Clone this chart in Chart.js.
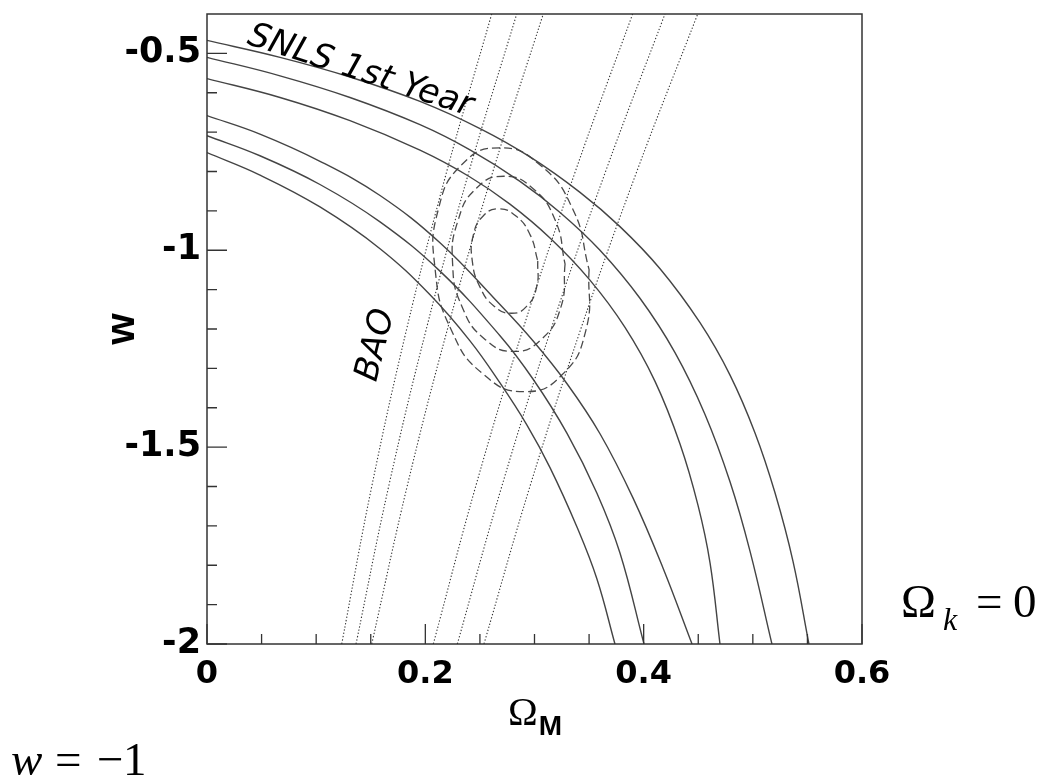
<!DOCTYPE html>
<html>
<head>
<meta charset="utf-8">
<script src="https://cdn.jsdelivr.net/npm/chart.js@4/dist/chart.umd.min.js"></script>
<style>
html,body{margin:0;padding:0;background:#fff;}
#wrap{position:relative;width:1041px;height:781px;}
</style>
</head>
<body>
<div id="wrap"><canvas id="c" width="1041" height="781"></canvas></div>
<script>
// ---- Data (Omega_M, w) ----
// SNLS 1st year contours (upper and lower boundaries)
const snls99Upper = [[0,-0.467],[0.0669,-0.510],[0.1310,-0.560],[0.1951,-0.622],[0.2501,-0.691],[0.2959,-0.763],[0.3417,-0.853],[0.3783,-0.940],[0.4150,-1.047],[0.4516,-1.184],[0.4791,-1.317],[0.5020,-1.464],[0.5203,-1.616],[0.5368,-1.790],[0.5514,-2.0]];
const snls95Upper = [[0,-0.510],[0.0669,-0.557],[0.1310,-0.612],[0.1951,-0.681],[0.2409,-0.745],[0.2867,-0.825],[0.3234,-0.904],[0.3600,-1.000],[0.3966,-1.122],[0.4287,-1.260],[0.4562,-1.417],[0.4791,-1.588],[0.4974,-1.764],[0.5175,-2.0]];
const snls68Upper = [[0,-0.564],[0.0669,-0.612],[0.1310,-0.671],[0.1951,-0.746],[0.2409,-0.814],[0.2775,-0.883],[0.3142,-0.969],[0.3508,-1.076],[0.3829,-1.196],[0.4104,-1.333],[0.4333,-1.492],[0.4498,-1.648],[0.4608,-1.794],[0.4699,-2.0]];
const snls68Lower = [[0,-0.658],[0.0485,-0.705],[0.1035,-0.774],[0.1585,-0.861],[0.2134,-0.981],[0.2684,-1.138],[0.2986,-1.230],[0.3298,-1.339],[0.3600,-1.466],[0.3902,-1.629],[0.4177,-1.807],[0.4443,-2.0]];
const snls95Lower = [[0,-0.709],[0.0485,-0.760],[0.1035,-0.833],[0.1585,-0.928],[0.2134,-1.053],[0.2684,-1.217],[0.2986,-1.327],[0.3298,-1.465],[0.3572,-1.617],[0.3783,-1.769],[0.4003,-2.0]];
const snls99Lower = [[0,-0.752],[0.0485,-0.809],[0.1035,-0.890],[0.1585,-0.996],[0.2043,-1.113],[0.2409,-1.230],[0.2684,-1.337],[0.2931,-1.444],[0.3142,-1.552],[0.3389,-1.703],[0.3572,-1.835],[0.3737,-2.0]];
// BAO band boundaries
const bao99Left  = [[0.1234,-2],[0.1509,-1.6],[0.1829,-1.2],[0.2196,-0.8],[0.2608,-0.4]];
const bao95Left  = [[0.1365,-2],[0.1664,-1.6],[0.2009,-1.2],[0.2400,-0.8],[0.2837,-0.4]];
const bao68Left  = [[0.1509,-2],[0.1833,-1.6],[0.2203,-1.2],[0.2619,-0.8],[0.3080,-0.4]];
const bao68Right = [[0.2073,-2],[0.2461,-1.6],[0.2895,-1.2],[0.3374,-0.8],[0.3899,-0.4]];
const bao95Right = [[0.2293,-2],[0.2700,-1.6],[0.3152,-1.2],[0.3651,-0.8],[0.4195,-0.4]];
const bao99Right = [[0.2537,-2],[0.2958,-1.6],[0.3424,-1.2],[0.3937,-0.8],[0.4495,-0.4]];
// Joint SNLS+BAO contours
const joint68 = [[0.303,-1.027],[0.302,-1.093],[0.293,-1.142],[0.279,-1.160],[0.263,-1.142],[0.250,-1.093],[0.243,-1.027],[0.244,-0.961],[0.253,-0.913],[0.267,-0.895],[0.283,-0.913],[0.296,-0.961],[0.303,-1.027]];
const joint95 = [[0.328,-1.035],[0.324,-1.146],[0.306,-1.227],[0.281,-1.257],[0.255,-1.227],[0.234,-1.146],[0.225,-1.035],[0.230,-0.924],[0.247,-0.842],[0.272,-0.812],[0.298,-0.842],[0.319,-0.924],[0.328,-1.035]];
const joint99 = [[0.350,-1.049],[0.347,-1.204],[0.325,-1.317],[0.291,-1.359],[0.254,-1.317],[0.224,-1.204],[0.209,-1.049],[0.212,-0.895],[0.234,-0.781],[0.268,-0.740],[0.304,-0.781],[0.335,-0.895],[0.350,-1.049]];
// Ticks
const xTickValues = [0, 0.2, 0.4, 0.6];
const xMinorTickValues = [0.05, 0.1, 0.15, 0.25, 0.3, 0.35, 0.45, 0.5, 0.55];
const yTickValues = [-2, -1.5, -1, -0.5];
const yMinorTickValues = [-1.9, -1.8, -1.7, -1.6, -1.4, -1.3, -1.2, -1.1, -0.9, -0.8, -0.7, -0.6];

// ---- styling / layout ----
const toXY = arr => arr.map(p => ({x: p[0], y: p[1]}));
const solid = (d) => ({data: toXY(d), showLine: true, borderColor: '#444', borderWidth: 1.4, pointRadius: 0, tension: 0.4, fill: false});
const dotted = (d) => ({data: toXY(d), showLine: true, borderColor: '#333', borderWidth: 1.1, borderDash: [1.3, 2], pointRadius: 0, tension: 0.4, fill: false});
const dashed = (d) => ({data: toXY(d), showLine: true, borderColor: '#4a4a4a', borderWidth: 1.3, borderDash: [8, 4], pointRadius: 0, tension: 0.5, fill: false});

const snlsLabelAnchor = [0.0357, -0.4750];
const baoLabelAnchor = [0.1548, -1.3367];

const framePlugin = {
  id: 'frame',
  afterDraw(chart) {
    const {ctx, chartArea: a, scales: {x, y}} = chart;
    ctx.save();
    ctx.strokeStyle = '#333';
    ctx.lineWidth = 1.5;
    ctx.strokeRect(a.left, a.top, a.right - a.left, a.bottom - a.top);
    ctx.lineWidth = 1.3;
    ctx.beginPath();
    xTickValues.forEach(v => { const p = x.getPixelForValue(v); ctx.moveTo(p, a.bottom); ctx.lineTo(p, a.bottom - 20); });
    xMinorTickValues.forEach(v => { const p = x.getPixelForValue(v); ctx.moveTo(p, a.bottom); ctx.lineTo(p, a.bottom - 10); });
    yTickValues.forEach(v => { const p = y.getPixelForValue(v); ctx.moveTo(a.left, p); ctx.lineTo(a.left + 20, p); });
    yMinorTickValues.forEach(v => { const p = y.getPixelForValue(v); ctx.moveTo(a.left, p); ctx.lineTo(a.left + 10, p); });
    ctx.stroke();

    ctx.fillStyle = '#000';
    ctx.textBaseline = 'alphabetic';
    ctx.textAlign = 'left';
    // SNLS label
    ctx.save();
    ctx.translate(x.getPixelForValue(snlsLabelAnchor[0]), y.getPixelForValue(snlsLabelAnchor[1]));
    ctx.rotate(18 * Math.PI / 180);
    ctx.font = "italic 34px 'DejaVu Sans'";
    ctx.fillText('SNLS 1st Year', 0, 0);
    ctx.restore();
    // BAO label
    ctx.save();
    ctx.translate(x.getPixelForValue(baoLabelAnchor[0]), y.getPixelForValue(baoLabelAnchor[1]));
    ctx.rotate(-76 * Math.PI / 180);
    ctx.font = "italic 34px 'DejaVu Sans'";
    ctx.fillText('BAO', 0, 0);
    ctx.restore();

    // x axis title  Ω_M
    const cx = (a.left + a.right) / 2;
    ctx.font = "40px 'Liberation Serif'";
    const wO = ctx.measureText('Ω').width;
    ctx.font = "bold 28px 'Liberation Sans'";
    const wM = ctx.measureText('M').width;
    const startX = cx - (wO + wM) / 2;
    ctx.font = "40px 'Liberation Serif'";
    ctx.fillText('Ω', startX, 725);
    ctx.font = "bold 28px 'Liberation Sans'";
    ctx.fillText('M', startX + wO + 1, 735);

    // Ω_k = 0 annotation
    ctx.font = "47px 'Liberation Serif'";
    ctx.fillText('Ω', 901, 617);
    ctx.font = "italic 32px 'Liberation Serif'";
    ctx.fillText('k', 943, 630);
    ctx.font = "47px 'Liberation Serif'";
    ctx.fillText('=', 976, 617);
    ctx.fillText('0', 1013, 617);

    // w = −1 annotation
    ctx.font = "italic 47px 'Liberation Serif'";
    ctx.fillText('w', 11, 775);
    ctx.font = "47px 'Liberation Serif'";
    ctx.fillText('=', 55, 775);
    ctx.fillText('\u2212', 97, 775);
    ctx.fillText('1', 123, 775);
    ctx.restore();
  }
};

new Chart(document.getElementById('c'), {
  type: 'scatter',
  data: {
    datasets: [
      solid(snls99Upper), solid(snls95Upper), solid(snls68Upper),
      solid(snls68Lower), solid(snls95Lower), solid(snls99Lower),
      dotted(bao99Left), dotted(bao95Left), dotted(bao68Left),
      dotted(bao68Right), dotted(bao95Right), dotted(bao99Right),
      dashed(joint68), dashed(joint95), dashed(joint99)
    ]
  },
  options: {
    responsive: false,
    devicePixelRatio: 1,
    animation: false,
    events: [],
    layout: {padding: {left: 0, top: 14, right: 179, bottom: 0}},
    plugins: {legend: {display: false}, tooltip: {enabled: false}, title: {display: false}},
    scales: {
      x: {
        type: 'linear', min: 0, max: 0.6,
        grid: {display: false, drawTicks: false},
        border: {display: false},
        afterBuildTicks: s => { s.ticks = xTickValues.map(v => ({value: v})); },
        afterFit: s => { s.height = 137; s.paddingLeft = 0; s.paddingRight = 0; },
        ticks: {
          autoSkip: false, maxRotation: 0, padding: 11, color: '#000',
          font: {family: 'DejaVu Sans', size: 32, weight: 'bold'},
          callback: v => (v === 0 ? '0' : Number(v).toFixed(1))
        }
      },
      y: {
        type: 'linear', min: -2, max: -0.4,
        grid: {display: false, drawTicks: false},
        border: {display: false},
        afterBuildTicks: s => { s.ticks = yTickValues.map(v => ({value: v})); },
        afterFit: s => { s.width = 207; s.paddingTop = 0; s.paddingBottom = 0; },
        title: {display: true, text: 'w', color: '#000', font: {family: 'Liberation Sans', size: 40, weight: 'bold'}, padding: {top: 99, bottom: 0}},
        ticks: {
          autoSkip: false, padding: 6, color: '#000',
          font: {family: 'DejaVu Sans', size: 35, weight: 'bold'},
          callback: v => String(v)
        }
      }
    }
  },
  plugins: [framePlugin]
});
</script>
</body>
</html>
